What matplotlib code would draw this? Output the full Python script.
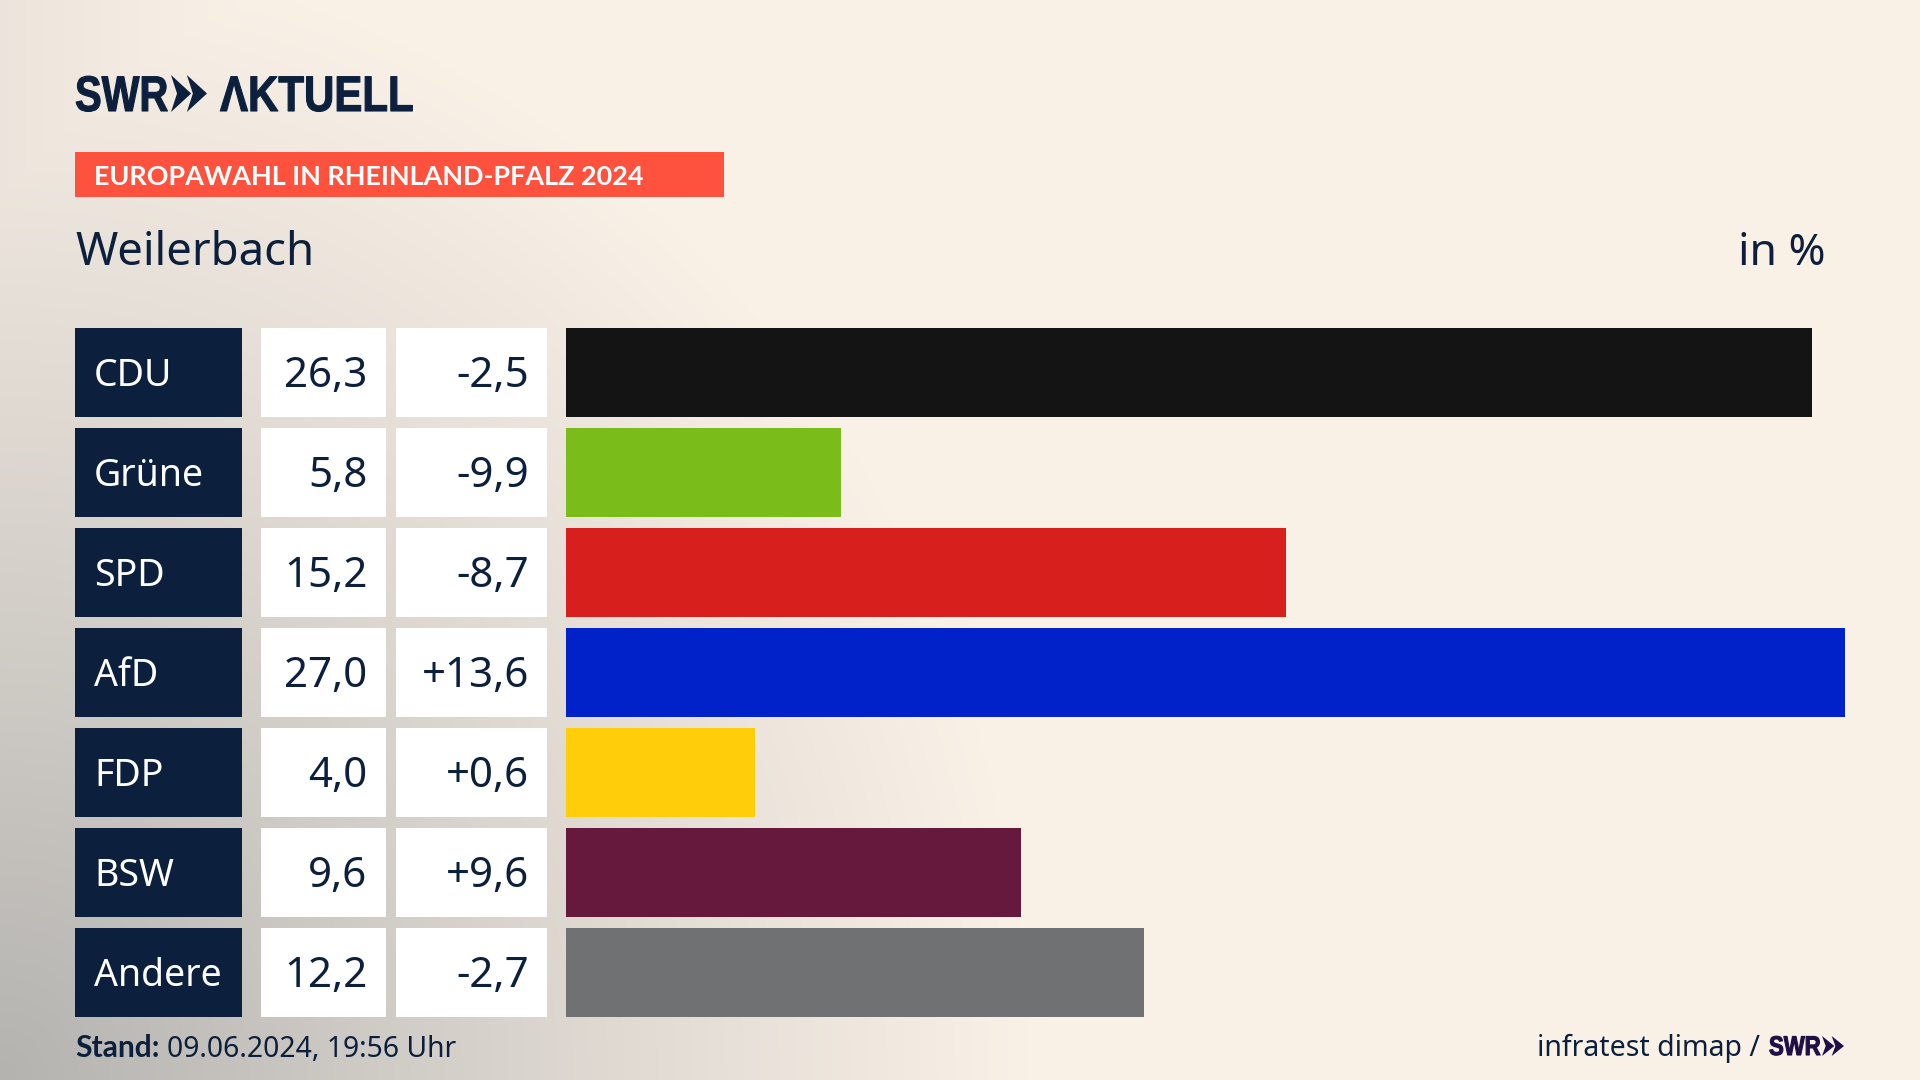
#!/usr/bin/env python
"""SWR Aktuell result chart: Europawahl 2024, Weilerbach."""

import matplotlib
matplotlib.use("Agg")
import matplotlib.pyplot as plt
import numpy as np
from matplotlib.patches import Polygon, Rectangle
from matplotlib.patheffects import AbstractPathEffect
from matplotlib.transforms import Affine2D

PARTIES = ["CDU", "Grüne", "SPD", "AfD", "FDP", "BSW", "Andere"]
SHARES = [26.3, 5.8, 15.2, 27.0, 4.0, 9.6, 12.2]
CHANGES = [-2.5, -9.9, -8.7, 13.6, 0.6, 9.6, -2.7]
BAR_COLORS = ["#141414", "#7abd1a", "#d71f1d", "#0022c8", "#ffcd0a", "#66183d", "#707173"]

NAVY = "#0c203d"
PURPLE = "#1e0f46"
SANS = "Noto Sans"
BOLD = "Lato"
LOGO = "Liberation Sans"
PX = 0.72  # font size in pt for one pixel at dpi 100

ROW_TOP = 328
ROW_PITCH = 100
ROW_HEIGHT = 88.5


class Squeeze(AbstractPathEffect):
    """Narrow a text horizontally around x0, the logo type is condensed."""

    def __init__(self, x0, factor, stroke=0.8):
        super().__init__()
        self.x0 = x0
        self.factor = factor
        self.stroke = stroke

    def draw_path(self, renderer, gc, tpath, affine, rgbFace=None):
        squeeze = Affine2D().translate(-self.x0, 0).scale(self.factor, 1).translate(self.x0, 0)
        gc0 = renderer.new_gc()
        gc0.copy_properties(gc)
        gc0.set_linewidth(self.stroke)
        gc0.set_foreground(rgbFace)
        renderer.draw_path(gc0, tpath, affine + squeeze, rgbFace)
        gc0.restore()


def decimal(value, signed=False):
    return (f"{value:+.1f}" if signed else f"{value:.1f}").replace(".", ",")


def logo_text(ax, x, y, text, size, factor, color):
    ax.text(x, y, text, family=LOGO, weight="bold", fontsize=size * PX, color=color,
            va="baseline", path_effects=[Squeeze(x, factor)])


def chevrons(ax, x, top, bottom, width, color):
    """Two-chevron mark of the SWR logo."""
    mid = (top + bottom) / 2
    arm = width * 0.56
    for left in (x, x + width - arm):
        ax.add_patch(Polygon(
            [(left, top), (left + arm, mid), (left, bottom), (left + arm * 0.3, mid)],
            closed=True, facecolor=color, edgecolor="none",
        ))


def background(ax):
    yy, xx = np.mgrid[0:1080:270j, 0:1920:480j]
    dist = np.hypot(xx / 1050, (1080 - yy) / 1150)
    t = np.clip(1 - dist, 0, 1) ** 1.1
    t = np.maximum(t, 0.2 * np.clip(1 - xx / 320, 0, 1) ** 1.5)
    cream = np.array([250, 241, 231]) / 255
    grey = np.array([180, 179, 176]) / 255
    img = cream + (grey - cream) * t[..., None]
    ax.imshow(img, extent=(0, 1920, 1080, 0), aspect="auto", interpolation="bilinear", zorder=0)


fig = plt.figure(figsize=(19.2, 10.8), dpi=100)
ax = fig.add_axes([0, 0, 1, 1])
background(ax)
ax.set_xlim(0, 1920)
ax.set_ylim(1080, 0)
ax.axis("off")

# header
logo_text(ax, 75, 111, "SWR", 50, 0.80, NAVY)
chevrons(ax, 171, 75, 112, 36, NAVY)
logo_text(ax, 220, 111, "ΛKTUELL", 50, 0.84, NAVY)

ax.add_patch(Rectangle((75, 152), 649, 45, facecolor="#ff523e", edgecolor="none"))
ax.text(94, 185, "EUROPAWAHL IN RHEINLAND-PFALZ 2024", family=BOLD, weight="bold",
        fontsize=27 * PX, color="white", va="baseline")
ax.text(75, 265, "Weilerbach", family=SANS, fontsize=45.5 * PX, color=NAVY, va="baseline")
ax.text(1826, 265, "in %", family=SANS, fontsize=44.5 * PX, color=NAVY, va="baseline", ha="right")

# table columns
for i, (party, share, change) in enumerate(zip(PARTIES, SHARES, CHANGES)):
    top = ROW_TOP + i * ROW_PITCH
    base = top + 57.5
    ax.add_patch(Rectangle((75, top), 167, ROW_HEIGHT, facecolor=NAVY, edgecolor="none"))
    ax.add_patch(Rectangle((261, top), 125, ROW_HEIGHT, facecolor="white", edgecolor="none"))
    ax.add_patch(Rectangle((396, top), 151, ROW_HEIGHT, facecolor="white", edgecolor="none"))
    ax.text(94, base, party, family=SANS, fontsize=37.5 * PX, color="white", va="baseline")
    ax.text(367.5, base + 2, decimal(share), family=SANS, fontsize=42 * PX, color=NAVY,
            va="baseline", ha="right")
    ax.text(529, base + 2, decimal(change, signed=True), family=SANS, fontsize=42 * PX, color=NAVY,
            va="baseline", ha="right")

# bars, scaled so that the largest share reaches the right edge
bar_ax = fig.add_axes([566 / 1920, 1 - (ROW_TOP + 7 * ROW_PITCH - 5.75) / 1080,
                       1279 / 1920, 7 * ROW_PITCH / 1080])
bar_ax.barh(range(len(SHARES)), SHARES, height=ROW_HEIGHT / ROW_PITCH, color=BAR_COLORS)
bar_ax.set_xlim(0, max(SHARES))
bar_ax.set_ylim(6.5, -0.5)
bar_ax.axis("off")

# footer
ax.text(75, 1057, "Stand:", family=BOLD, weight="bold", fontsize=30 * PX, color=NAVY, va="baseline")
ax.text(167, 1057, "09.06.2024, 19:56 Uhr", family=SANS, fontsize=28.3 * PX, color=NAVY, va="baseline")
ax.text(1760, 1056, "infratest dimap /", family=SANS, fontsize=28.5 * PX, color=NAVY,
        va="baseline", ha="right")
logo_text(ax, 1769, 1055, "SWR", 27, 0.82, PURPLE)
chevrons(ax, 1822, 1036, 1056, 22, PURPLE)

fig.savefig("out.png", dpi=100)
